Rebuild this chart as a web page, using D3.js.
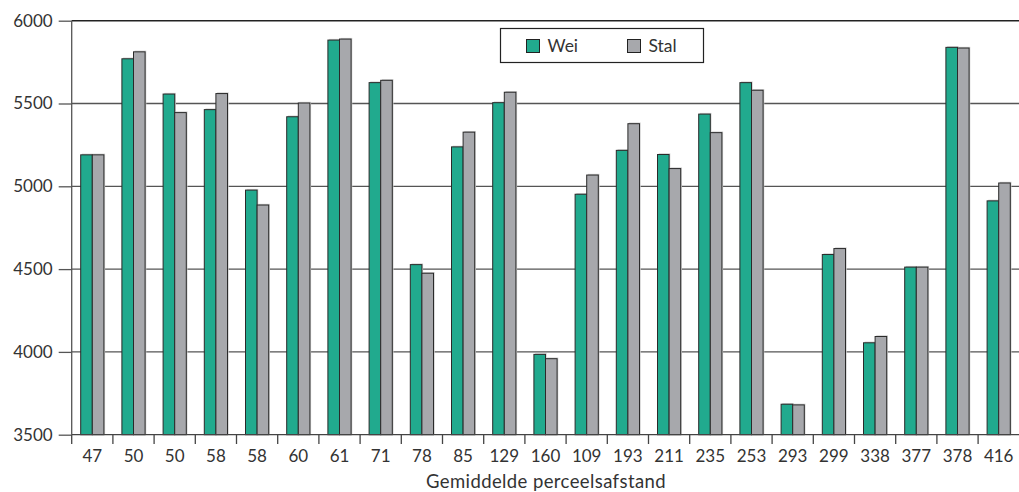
<!DOCTYPE html>
<html><head><meta charset="utf-8">
<script src="https://cdn.jsdelivr.net/npm/d3@7"></script>
<style>body{margin:0;background:#fff}svg{display:block}text{font-family:Lato,"Open Sans",sans-serif;fill:#333}</style>
</head><body><svg id="c" width="1019" height="492"></svg>
<script>
const categories = ["47","50","50","58","58","60","61","71","78","85","129","160","109","193","211","235","253","293","299","338","377","378","416"];
const wei  = [5190,5770,5557,5463,4977,5420,5883,5626,4527,5238,5505,3985,4952,5217,5192,5436,5626,3684,4588,4055,4512,5839,4912];
const stal = [5190,5812,5445,5560,4887,5503,5889,5640,4475,5327,5568,3959,5068,5378,5107,5324,5580,3680,4624,4093,4512,5835,5020];
const seriesNames = ["Wei","Stal"];
const yTicks = [3500,4000,4500,5000,5500,6000];
const colors = ["#21aa8e","#a7a8ac"];

const svg = d3.select("#c");
const x = d3.scaleBand().domain(d3.range(categories.length)).range([71.7, 1019.3]).paddingInner(0).paddingOuter(0);
const y = d3.scaleLinear().domain([3500,6000]).range([434.7, 20.7]);

// gridlines
svg.append("g").selectAll("line").data(yTicks.filter(d=>d>3500)).join("line")
  .attr("x1", 71.7).attr("x2", 1019).attr("y1", d=>y(d)).attr("y2", d=>y(d))
  .attr("stroke", d=> d===6000 ? "#222" : "#555").attr("stroke-width", d=> d===6000?1.4:1.3);

// bars
const bw = 11.6;
const g = svg.append("g");
categories.forEach((c,i)=>{
  const cx = x(i) + x.bandwidth()/2;
  [wei[i], stal[i]].forEach((v,k)=>{
    const x0 = cx - bw + k*bw;
    g.append("rect").attr("x", x0+1.2).attr("y", y(v)-1.2).attr("width", bw).attr("height", y(3500)-y(v)+1.2)
      .attr("fill","#cfcfcf");
    g.append("rect").attr("x", x0).attr("y", y(v)).attr("width", bw).attr("height", y(3500)-y(v))
      .attr("fill", colors[k]).attr("stroke","#2a2a2a").attr("stroke-width",1);
  });
});

// axes
const yAxis = d3.axisLeft(y).tickValues(yTicks).tickSize(13).tickPadding(6).tickFormat(d3.format("d"));
const ya = svg.append("g").attr("transform","translate(71.7,0)").call(yAxis);
ya.select(".domain").attr("stroke","#555").attr("stroke-width",1.3).attr("d","M0,20.7V434.7");
ya.selectAll(".tick line").attr("stroke","#555").attr("stroke-width",1.3);
ya.selectAll("text").attr("font-size",17).attr("fill","#333");

svg.append("line").attr("x1",71.7).attr("x2",1019).attr("y1",434.7).attr("y2",434.7).attr("stroke","#444").attr("stroke-width",1.3);
svg.append("g").selectAll("line").data(d3.range(categories.length)).join("line")
  .attr("x1", i=>x(i)).attr("x2", i=>x(i)).attr("y1",434.7).attr("y2",444).attr("stroke","#444").attr("stroke-width",1.3);
svg.append("g").selectAll("text").data(categories).join("text")
  .attr("x",(d,i)=>x(i)+x.bandwidth()/2).attr("y",462).attr("text-anchor","middle").attr("font-size",17).text(d=>d);

svg.append("text").attr("x",546).attr("y",488).attr("text-anchor","middle").attr("font-size",18.5).attr("letter-spacing",0.4).text("Gemiddelde perceelsafstand");

// legend
const lg = svg.append("g");
lg.append("rect").attr("x",500.5).attr("y",28.5).attr("width",203).attr("height",34).attr("fill","#fff").attr("stroke","#222").attr("stroke-width",1.2);
const lx = [526.5, 627.5];
seriesNames.forEach((s,k)=>{
  lg.append("rect").attr("x",lx[k]).attr("y",39.5).attr("width",13).attr("height",13).attr("fill",colors[k]).attr("stroke","#222").attr("stroke-width",1);
  lg.append("text").attr("x",lx[k]+21).attr("y",52).attr("font-size",17.5).text(s);
});
</script></body></html>
